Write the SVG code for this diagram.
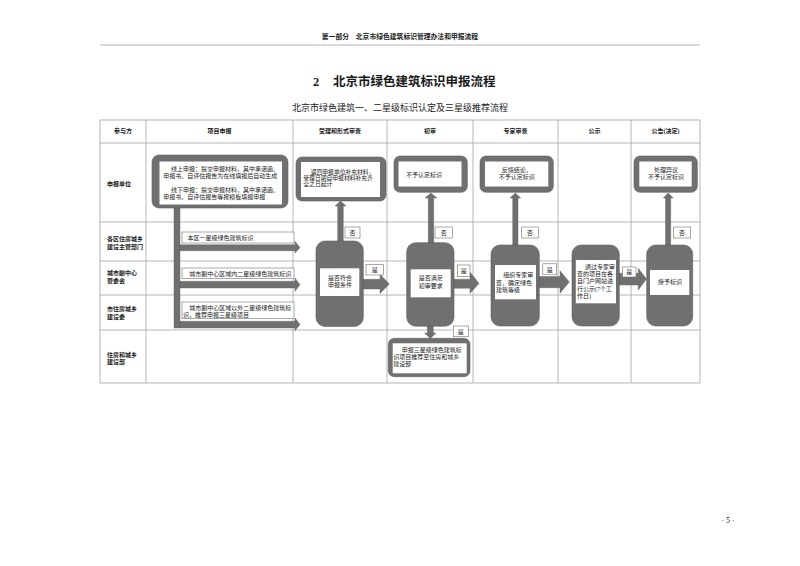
<svg xmlns="http://www.w3.org/2000/svg" width="800" height="566" viewBox="0 0 800 566">
<style>
text{font-family:"Liberation Serif","Noto Sans CJK SC",serif;fill:#1a1a1a}
.t{font-size:6px}
.s{font-size:5.8px}
.h{font-size:6px;font-weight:bold}
.c{text-anchor:middle}
.grid{stroke:#a3a3a3;stroke-width:0.8;fill:none}
.outer{fill:#707070;stroke:#5e5e5e;stroke-width:0.6}
.inner{fill:#ffffff}
.lbl{fill:#ffffff;stroke:#707070;stroke-width:0.6}
.conn{fill:#707070;stroke:#5e5e5e;stroke-width:0.4}
</style>
<rect x="0" y="0" width="800" height="566" fill="#ffffff"/>
<!-- page header -->
<text x="400" y="39" font-size="6.8" font-weight="bold" class="c">第一部分　北京市绿色建筑标识管理办法和申报流程</text>
<line x1="100" y1="45" x2="700" y2="45" stroke="#a0a0a0" stroke-width="0.8"/>
<text y="85.5" font-size="12.5" font-weight="bold"><tspan x="313">2</tspan><tspan x="333">北京市绿色建筑标识申报流程</tspan></text>
<text x="292" y="111" font-size="9">北京市绿色建筑一、二星级标识认定及三星级推荐流程</text>
<text x="728" y="523" font-size="8" class="c">· 5 ·</text>

<!-- table grid -->
<g id="table">
<rect class="grid" x="100" y="120" width="600" height="263"/>
<path class="grid" d="M100 143H700M100 222H700M100 261H700M100 295H700M100 330H700M146 120V383M293 120V383M387 120V383M473 120V383M558 120V383M631 120V383"/>
<text class="h c" x="123" y="133">参与方</text>
<text class="h c" x="219.5" y="133">项目申报</text>
<text class="h c" x="340" y="133">受理和形式审查</text>
<text class="h c" x="430" y="133">初审</text>
<text class="h c" x="515.5" y="133">专家审查</text>
<text class="h c" x="594.5" y="133">公示</text>
<text class="h c" x="665.5" y="133">公告(决定)</text>
<text class="h" x="107" y="185.5">申报单位</text>
<text class="h" x="107" y="240.5">各区住房城乡</text>
<text class="h" x="107" y="248.5">建设主管部门</text>
<text class="h" x="107" y="275">城市副中心</text>
<text class="h" x="107" y="283">管委会</text>
<text class="h" x="107" y="311">市住房城乡</text>
<text class="h" x="107" y="319">建设委</text>
<text class="h" x="107" y="356.5">住房和城乡</text>
<text class="h" x="107" y="364">建设部</text>
</g>

<!-- connectors -->
<g id="connectors">
<rect class="conn" x="174" y="207" width="6" height="121"/>
<polygon class="conn" points="180,244.7 295,244.7 295,241.3 300,247.7 295,253 295,250.7 180,250.7"/>
<polygon class="conn" points="180,281.3 295,281.3 295,278 300,284.7 295,291.3 295,288 180,288"/>
<polygon class="conn" points="180,321.3 295,321.3 295,318 300,324.5 295,330.7 295,328 180,328"/>
<rect class="lbl" x="182" y="232" width="112" height="11"/>
<text class="t" x="187.5" y="240">本区一星级绿色建筑标识</text>
<rect class="lbl" x="182" y="268" width="112" height="10.7"/>
<text class="t" x="189.3" y="275.5">城市副中心区域内二星级绿色建筑标识</text>
<rect class="lbl" x="182" y="302" width="112" height="16.7"/>
<text class="t" x="189.3" y="310">城市副中心区域以外二星级绿色建筑标</text>
<text class="t" x="183" y="316.5">识，推荐申报三星级项目</text>

<polygon class="conn" points="337.7,241 337.7,206 335,206 340.5,201 346,206 343.3,206 343.3,241"/>
<polygon class="conn" points="428.3,243 428.3,198 425,198 431,193 437,198 433.7,198 433.7,243"/>
<polygon class="conn" points="512.7,245 512.7,198 510,198 515.4,193 520.7,198 518,198 518,245"/>
<polygon class="conn" points="665.5,245 665.5,198 663.3,198 668.2,193 673.3,198 670.7,198 670.7,245"/>
<rect class="lbl" x="345" y="227" width="15" height="11"/><text class="t c" x="352.5" y="235">否</text>
<rect class="lbl" x="435" y="227" width="17.5" height="11"/><text class="t c" x="443.7" y="235">否</text>
<rect class="lbl" x="521.7" y="227" width="16.6" height="11"/><text class="t c" x="530" y="235">否</text>
<rect class="lbl" x="673.3" y="227" width="17.4" height="11"/><text class="t c" x="682" y="235">否</text>

<polygon class="conn" points="363,279.3 380,279.3 380,274.3 389.3,284 380,293.5 380,289 363,289"/>
<polygon class="conn" points="454,279.3 470,279.3 470,272 479,283.5 470,293.3 470,288.3 454,288.3"/>
<polygon class="conn" points="539,276.5 560,276.5 560,270.7 569.3,282 560,293.3 560,287.7 539,287.7"/>
<polygon class="conn" points="619,273.3 638.3,273.3 638.3,268.3 646.5,279 638.3,290 638.3,285 619,285"/>
<rect class="lbl" x="366" y="264.3" width="17.3" height="10.7"/><text class="t c" x="374.7" y="272">是</text>
<rect class="lbl" x="457.3" y="265" width="12.7" height="11.7"/><text class="t c" x="463.7" y="273">是</text>
<rect class="lbl" x="542.8" y="263.8" width="13.9" height="11"/><text class="t c" x="549.8" y="271.5">是</text>
<rect class="lbl" x="622.5" y="267" width="13.5" height="10"/><text class="t c" x="629.2" y="274.3">是</text>

<polygon class="conn" points="427.3,326 433.3,326 433.3,333 436,333 430.3,338.5 424.6,333 427.3,333"/>
<rect class="lbl" x="453.3" y="326" width="15" height="10.7"/><text class="t c" x="460.8" y="333.5">是</text>
</g>

<!-- nodes -->
<g id="n-apply">
<rect class="outer" x="152" y="155" width="136" height="53" rx="7"/>
<rect class="inner" x="159.5" y="161.5" width="122.5" height="43"/>
<text class="t" x="171" y="170.5">线上申报：提交申报材料，其中承诺函、</text>
<text class="t" x="163.3" y="178">申报书、自评估报告为在线填报后自动生成</text>
<text class="t" x="171" y="191.5">线下申报：提交申报材料，其中承诺函、</text>
<text class="t" x="163.3" y="199">申报书、自评估报告等按模板填报申报</text>
</g>
<g id="n-return">
<rect class="outer" x="296" y="157" width="90" height="44" rx="6"/>
<rect class="inner" x="301" y="162" width="79" height="35"/>
<text class="s" x="310.7" y="173.5">返回申报单位补充材料，</text>
<text class="s" x="303.3" y="179.8">受理日期自申报材料补充齐</text>
<text class="s" x="303.3" y="186.1">全之日起计</text>
</g>
<g id="n-reject1">
<rect class="outer" x="394" y="156" width="73.3" height="36.3" rx="6"/>
<rect class="inner" x="398.5" y="161.5" width="63" height="25"/>
<text class="t" x="406" y="177">不予认定标识</text>
</g>
<g id="n-reject2">
<rect class="outer" x="480" y="156" width="73.3" height="36.3" rx="6"/>
<rect class="inner" x="485" y="161.5" width="63.3" height="25"/>
<text class="t c" x="516.7" y="172">反馈结论，</text>
<text class="t c" x="516.7" y="179">不予认定标识</text>
</g>
<g id="n-reject3">
<rect class="outer" x="634" y="156" width="63.3" height="36.3" rx="6"/>
<rect class="inner" x="639.3" y="161.5" width="52.4" height="25"/>
<text class="t c" x="666" y="172">处理异议</text>
<text class="t c" x="666" y="179">不予认定标识</text>
</g>
<g id="n-d1">
<rect class="outer" x="316" y="241" width="47.3" height="85.5" rx="9"/>
<rect class="inner" x="320" y="268.3" width="39.3" height="27.7"/>
<text class="t c" x="340" y="279.5">是否符合</text>
<text class="t c" x="340" y="286.5">申报条件</text>
</g>
<g id="n-d2">
<rect class="outer" x="406.7" y="242.7" width="47.3" height="83.5" rx="9"/>
<rect class="inner" x="410.7" y="269.3" width="40" height="28"/>
<text class="t c" x="430.7" y="279.5">是否满足</text>
<text class="t c" x="430.7" y="287.5">初审要求</text>
</g>
<g id="n-d3">
<rect class="outer" x="491" y="245" width="48.3" height="81" rx="9"/>
<rect class="inner" x="495" y="265" width="41" height="34.3"/>
<text class="t" x="503.3" y="277">组织专家审</text>
<text class="t" x="496" y="285">查，确定绿色</text>
<text class="t" x="496" y="292">建筑等级</text>
</g>
<g id="n-d4">
<rect class="outer" x="572" y="245" width="47.3" height="81" rx="9"/>
<rect class="inner" x="575.8" y="260" width="40.2" height="43.3"/>
<text class="t" x="585" y="269">通过专家审</text>
<text class="t" x="577" y="275.8">查的项目在各</text>
<text class="t" x="577" y="283">自门户网站进</text>
<text class="t" x="577" y="290.5">行公示(7个工</text>
<text class="t" x="577" y="298">作日)</text>
</g>
<g id="n-d5">
<rect class="outer" x="646.7" y="245" width="46" height="81" rx="9"/>
<rect class="inner" x="650" y="270" width="39.3" height="25"/>
<text class="t c" x="670" y="284">授予标识</text>
</g>
<g id="n-ministry">
<rect class="outer" x="388.3" y="338.3" width="81.7" height="38.4" rx="6"/>
<rect class="inner" x="392.7" y="343.3" width="74" height="30"/>
<text class="t" x="401.7" y="352">申报三星级绿色建筑标</text>
<text class="t" x="393.3" y="359">识项目推荐至住房和城乡</text>
<text class="t" x="393.3" y="366">建设部</text>
</g>
</svg>
